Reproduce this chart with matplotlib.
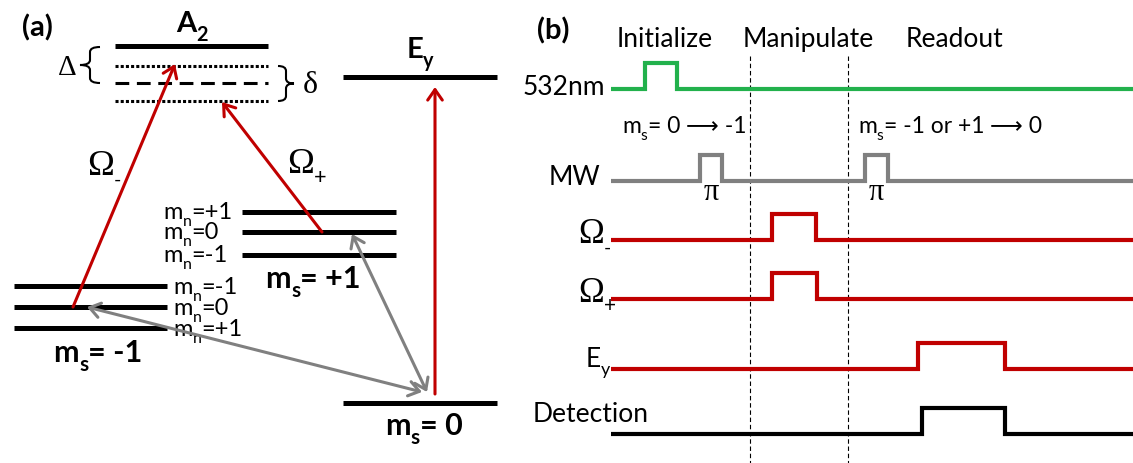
import matplotlib.pyplot as plt
from matplotlib.path import Path
from matplotlib.patches import PathPatch

SANS = ['Lato', 'DejaVu Sans']
SERIF = ['Liberation Serif', 'DejaVu Serif']
RED = '#c00000'
GRAY = '#808080'
GREEN = '#22b14c'

# ---- (a) level scheme, positions in figure pixels ----
a2_level = 47
a2_span = (115, 268)
virtual_levels = [67, 84, 102]          # detuned virtual levels under A2
virtual_styles = ['dotted', 'dashed', 'dotted']
ey_level = 78
ey_span = (343, 497)
ms_minus_levels = [287, 308, 329]
ms_minus_span = (14, 167)
ms_minus_mn = ['-1', '0', '+1']
ms_plus_levels = [213, 233, 256]
ms_plus_span = (242, 396)
ms_plus_mn = ['+1', '0', '-1']
ms0_level = 404
ms0_span = (343, 497)

# optical transitions (tail -> head)
red_arrows = [((73, 308), (175, 65)),
              ((322, 233), (222, 103)),
              ((435, 395), (435, 88))]
# microwave transitions
gray_arrows = [((87, 308), (422, 393)),
               ((352, 235), (427, 393))]

# ---- (b) pulse sequence ----
seq_start, seq_end = 611, 1133
pulse_height = 26
channel_base = [90, 182, 241, 300, 370, 435]
channel_pulses = [[(645, 677)],
                  [(700, 722), (865, 888)],
                  [(772, 816)],
                  [(772, 817)],
                  [(918, 1005)],
                  [(922, 1005)]]
channel_colors = [GREEN, GRAY, RED, RED, RED, 'black']
stage_names = ['Initialize', 'Manipulate', 'Readout']
stage_centers = [665, 808, 955]
stage_bounds = [750, 848]

fig = plt.figure(figsize=(11.33, 4.64), dpi=100)
ax = fig.add_axes([0, 0, 1, 1])
ax.set_xlim(0, 1133)
ax.set_ylim(464, 0)
ax.axis('off')
renderer = fig.canvas.get_renderer()


def rich(x, y, pieces, size, ha='left', weight='normal', family=SANS, sub_scale=0.68):
    # pieces: (text, kind) with kind '' normal, 'sub' subscript; optional 3rd item = family
    texts = []
    for p in pieces:
        s, kind = p[0], p[1]
        fam = p[2] if len(p) > 2 else family
        fs = size * sub_scale if kind == 'sub' else size
        dy = size * 0.42 if kind == 'sub' else 0
        t = ax.text(x, y + dy, s, fontsize=fs, fontweight=weight, family=fam,
                    va='baseline', ha='left')
        texts.append(t)
    widths = [t.get_window_extent(renderer).width for t in texts]
    total = sum(widths)
    x0 = x - total / 2 if ha == 'center' else (x - total if ha == 'right' else x)
    for t, w in zip(texts, widths):
        t.set_x(x0)
        x0 += w


def level(y, span, ls='solid', lw=3.6):
    ax.plot(span, [y, y], color='black', lw=lw, ls=ls, solid_capstyle='butt',
            dash_capstyle='butt')


def brace(x, y0, y1, w, left=True, lw=1.5):
    # curly brace between y0 and y1, tip pointing left or right
    s = -1 if left else 1
    ym = (y0 + y1) / 2
    r = 5
    xs = x + s * w / 2
    xt = x + s * w
    verts = [(x, y0), (xs, y0), (xs, y0 + r),
             (xs, ym - r),
             (xs, ym), (xt, ym),
             (xs, ym), (xs, ym + r),
             (xs, y1 - r),
             (xs, y1), (x, y1)]
    codes = [Path.MOVETO, Path.CURVE3, Path.CURVE3,
             Path.LINETO,
             Path.CURVE3, Path.CURVE3,
             Path.CURVE3, Path.CURVE3,
             Path.LINETO,
             Path.CURVE3, Path.CURVE3]
    ax.add_patch(PathPatch(Path(verts, codes), fill=False, lw=lw, color='black'))


# (a)
ax.text(22, 36, '(a)', fontsize=21, fontweight='bold', family=SANS)
level(a2_level, a2_span)
for y, st in zip(virtual_levels, virtual_styles):
    if st == 'dotted':
        level(y, a2_span, ls=(0, (1, 0.7)), lw=2.2)
    else:
        level(y, a2_span, ls=(0, (4.5, 2.5)), lw=2.2)
rich(192, 32, [('A', ''), ('2', 'sub')], 21, ha='center', weight='bold')
brace(100, a2_level + 1, virtual_levels[1], 20, left=True)
ax.text(67, 75, 'Δ', fontsize=21, family=SERIF, ha='center')
brace(278, virtual_levels[0], virtual_levels[2], 16, left=False)
ax.text(310, 93, 'δ', fontsize=23, family=SERIF, ha='center')

level(ey_level, ey_span)
rich(420, 58, [('E', ''), ('y', 'sub')], 21, ha='center', weight='bold')

for y, mn in zip(ms_minus_levels, ms_minus_mn):
    level(y, ms_minus_span)
    rich(173, y + 7, [('m', ''), ('n', 'sub'), ('=' + mn, '')], 17)
rich(98, 362, [('m', ''), ('s', 'sub'), ('= -1', '')], 22, ha='center', weight='bold')

for y, mn in zip(ms_plus_levels, ms_plus_mn):
    level(y, ms_plus_span)
    rich(163, y + 6, [('m', ''), ('n', 'sub'), ('=' + mn, '')], 17)
rich(313, 288, [('m', ''), ('s', 'sub'), ('= +1', '')], 22, ha='center', weight='bold')

level(ms0_level, ms0_span)
rich(424, 435, [('m', ''), ('s', 'sub'), ('= 0', '')], 22, ha='center', weight='bold')

for tail, head in red_arrows:
    ax.annotate('', xy=head, xytext=tail,
                arrowprops=dict(arrowstyle='->,head_length=0.5,head_width=0.35',
                                color=RED, lw=2.2, mutation_scale=15,
                                shrinkA=0, shrinkB=0))
for a, b in gray_arrows:
    ax.annotate('', xy=b, xytext=a,
                arrowprops=dict(arrowstyle='<->,head_length=0.5,head_width=0.35',
                                color=GRAY, lw=2.2, mutation_scale=15,
                                shrinkA=0, shrinkB=0))
rich(87, 175, [('Ω', ''), ('-', 'sub', SANS)], 26, family=SERIF, sub_scale=0.55)
rich(287, 173, [('Ω', ''), ('+', 'sub', SANS)], 26, family=SERIF, sub_scale=0.6)

# (b)
ax.text(537, 39, '(b)', fontsize=21, fontweight='bold', family=SANS)
for name, cx in zip(stage_names, stage_centers):
    ax.text(cx, 47, name, fontsize=19, family=SANS, ha='center')
for xb in stage_bounds:
    ax.plot([xb, xb], [57, 464], color='black', lw=0.8, ls=(0, (4, 2.5)))

for base, pulses, col in zip(channel_base, channel_pulses, channel_colors):
    xs, ys = [seq_start], [base]
    for s, e in pulses:
        xs += [s, s, e, e]
        ys += [base, base - pulse_height, base - pulse_height, base]
    xs.append(seq_end)
    ys.append(base)
    ax.plot(xs, ys, color=col, lw=3, solid_joinstyle='miter', solid_capstyle='butt')

ax.text(605, 95, '532nm', fontsize=19, family=SANS, ha='right')
ax.text(600, 185, 'MW', fontsize=19, family=SANS, ha='right')
rich(578, 243, [('Ω', ''), ('-', 'sub', SANS)], 25, family=SERIF, sub_scale=0.55)
rich(578, 302, [('Ω', ''), ('+', 'sub', SANS)], 25, family=SERIF, sub_scale=0.6)
rich(586, 367, [('E', ''), ('y', 'sub')], 19)
ax.text(533, 422, 'Detection', fontsize=19, family=SANS)

for s, e in channel_pulses[1]:
    ax.text((s + e) / 2, 200, 'π', fontsize=22, family=SERIF, ha='center')
rich(622, 133, [('m', ''), ('s', 'sub'), ('= 0 ', ''), ('⟶', '', ['DejaVu Sans']), (' -1', '')], 16.5)
rich(858, 133, [('m', ''), ('s', 'sub'), ('= -1 or +1 ', ''), ('⟶', '', ['DejaVu Sans']), (' 0', '')], 16.5)

fig.savefig('out.png', dpi=100)
